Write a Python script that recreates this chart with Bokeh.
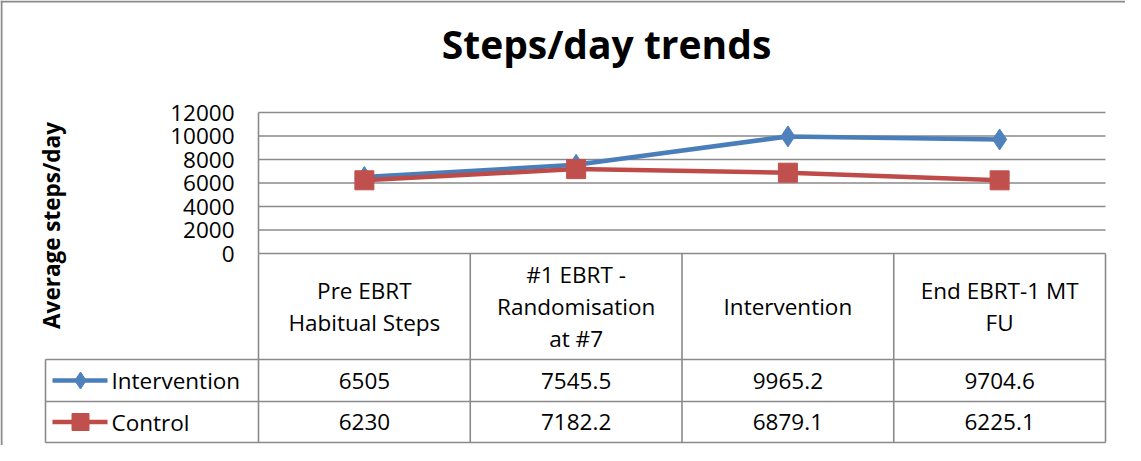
from bokeh.plotting import figure
from bokeh.models import Range1d, LinearAxis, FixedTicker, Span
from bokeh.core.properties import value
from bokeh.embed import file_html
from bokeh.resources import INLINE
import math

# ---------------- data ----------------
categories = ["Pre EBRT\nHabitual Steps", "#1 EBRT -\nRandomisation\nat #7",
              "Intervention", "End EBRT-1 MT\nFU"]
intervention = [6505, 7545.5, 9965.2, 9704.6]
control = [6230, 7182.2, 6879.1, 6225.1]
intervention_labels = ["6505", "7545.5", "9965.2", "9704.6"]
control_labels = ["6230", "7182.2", "6879.1", "6225.1"]
series_names = ["Intervention", "Control"]
y_ticks = [0, 2000, 4000, 6000, 8000, 10000, 12000]
title_text = "Steps/day trends"
y_label_text = "Average steps/day"

# ---------------- layout (canvas px) ----------------
W, H = 1125, 445
PLOT_L, PLOT_R = 258, 1105
PLOT_T, PLOT_B = 112, 253
HEAD_B, ROW1_B, ROW2_B = 359, 401, 442
LEG_L = 45
FONT = "Open Sans"
FS = "22.5px"
GRID_C = "#8a8a8a"
BLUE_L, BLUE_F = "#4A7EBB", "#4F81BD"
RED_L, RED_F = "#BE4B48", "#C0504D"

n = len(categories)
ymax = y_ticks[-1]
u = (PLOT_R - PLOT_L) / n                 # px per category
x_start = -0.5 - PLOT_L / u
x_end = x_start + W / u
k = (PLOT_B - PLOT_T) / ymax              # px per step
y_end = ymax + PLOT_T / k
y_start = -(H - PLOT_B) / k

p = figure(width=W, height=H,
           x_range=Range1d(x_start, x_end), y_range=Range1d(y_start, y_end),
           x_axis_location=None, y_axis_location=None,
           toolbar_location=None, output_backend="svg", min_border=0)
p.outline_line_color = None
p.background_fill_color = "white"
p.border_fill_color = "white"
p.xgrid.visible = False
p.ygrid.visible = False
p.extra_x_ranges = {"px": Range1d(0, W)}
p.extra_y_ranges = {"py": Range1d(H, 0)}

# y axis with tick labels placed at the plot-area left edge
yaxis = LinearAxis(fixed_location=-0.5, ticker=FixedTicker(ticks=y_ticks),
                   axis_line_color=None, major_tick_line_color=None,
                   minor_tick_line_color=None, major_tick_in=0, major_tick_out=0,
                   major_label_standoff=24,
                   major_label_text_font=FONT, major_label_text_font_size=FS,
                   major_label_text_color="black")
p.add_layout(yaxis, "left")

# horizontal grid lines
p.segment(x0=[-0.5] * len(y_ticks), x1=[n - 0.5] * len(y_ticks),
          y0=y_ticks, y1=y_ticks, line_color=GRID_C, line_width=1.6)
# vertical axis line
p.segment(x0=[-0.5], x1=[-0.5], y0=[0], y1=[ymax], line_color=GRID_C, line_width=1.6)

# data table grid
vx = [PLOT_L + u * i for i in range(n + 1)]
p.segment(x0=vx, x1=vx, y0=[PLOT_B] * len(vx), y1=[ROW2_B] * len(vx),
          line_color=GRID_C, line_width=1.6, x_range_name="px", y_range_name="py")
p.segment(x0=[LEG_L] * 3, x1=[PLOT_R] * 3, y0=[HEAD_B, ROW1_B, ROW2_B],
          y1=[HEAD_B, ROW1_B, ROW2_B],
          line_color=GRID_C, line_width=1.6, x_range_name="px", y_range_name="py")
p.segment(x0=[LEG_L], x1=[LEG_L], y0=[HEAD_B], y1=[ROW2_B],
          line_color=GRID_C, line_width=1.6, x_range_name="px", y_range_name="py")

# series
xs = list(range(n))
p.line(xs, intervention, line_color=BLUE_L, line_width=4.5)
p.scatter(xs, intervention, marker="diamond", size=21,
          fill_color=BLUE_F, line_color=BLUE_F)
p.line(xs, control, line_color=RED_L, line_width=4.5)
p.scatter(xs, control, marker="square", size=19,
          fill_color=RED_F, line_color=RED_F)

# category header texts
p.text(x=xs, y=[(PLOT_B + HEAD_B) / 2] * n, text=categories,
       text_font=value(FONT), text_font_size=FS, text_color="black",
       text_align="center", text_baseline="middle", text_line_height=1.02,
       y_range_name="py")

# value rows
r1 = (HEAD_B + ROW1_B) / 2
r2 = (ROW1_B + ROW2_B) / 2
p.text(x=xs, y=[r1] * n, text=intervention_labels,
       text_font=value(FONT), text_font_size=FS, text_color="black",
       text_align="center", text_baseline="middle", y_range_name="py")
p.text(x=xs, y=[r2] * n, text=control_labels,
       text_font=value(FONT), text_font_size=FS, text_color="black",
       text_align="center", text_baseline="middle", y_range_name="py")

# legend keys in the table
for yy, lc, fc, mk, name in [(r1, BLUE_L, BLUE_F, "diamond", series_names[0]),
                             (r2, RED_L, RED_F, "square", series_names[1])]:
    p.line(x=[52, 107], y=[yy, yy], line_color=lc, line_width=4.5,
           x_range_name="px", y_range_name="py")
    p.scatter(x=[80], y=[yy], marker=mk, size=17, fill_color=fc, line_color=fc,
              x_range_name="px", y_range_name="py")
    p.text(x=[111], y=[yy], text=[name], text_font=value(FONT), text_font_size=FS,
           text_color="black", text_align="left", text_baseline="middle",
           x_range_name="px", y_range_name="py")

# title
p.text(x=[606], y=[43], text=[title_text], text_font=value(FONT),
       text_font_size="39px", text_font_style="bold", text_color="black",
       text_align="center", text_baseline="middle",
       x_range_name="px", y_range_name="py")

# y axis title
p.text(x=[51], y=[225], text=[y_label_text], text_font=value(FONT),
       text_font_size="22.5px", text_font_style="bold", text_color="black",
       text_align="center", text_baseline="middle", angle=math.pi / 2,
       x_range_name="px", y_range_name="py")

# outer chart border (left and top edges)
p.add_layout(Span(location=1, dimension="height", line_color="#8a8a8a",
                  line_width=2, x_range_name="px"))
p.add_layout(Span(location=1, dimension="width", line_color="#8a8a8a",
                  line_width=2, y_range_name="py"))

open("out.html", "w").write(file_html(p, INLINE))
